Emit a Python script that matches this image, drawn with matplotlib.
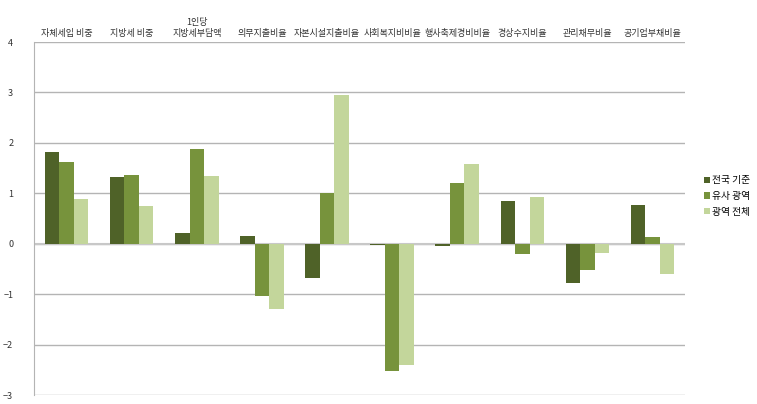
# grouped bar chart of finance indicators, three reference groups
import matplotlib.pyplot as plt
import numpy as np

plt.rcParams['font.family'] = ['Noto Sans CJK KR', 'DejaVu Sans']

# categories (shown on top of the plot)
categories = ['자체세입 비중', '지방세 비중', '1인당\n지방세부담액', '의무지출비율', '자본시설지출비율',
              '사회복지비비율', '행사축제경비비율', '경상수지비율', '관리채무비율', '공기업부채비율']
series_names = ['전국 기준', '유사 광역', '광역 전체']

# values per series
national = [1.82, 1.32, 0.22, 0.16, -0.68, -0.02, -0.04, 0.84, -0.77, 0.76]
similar = [1.63, 1.36, 1.87, -1.03, 1.00, -2.52, 1.21, -0.20, -0.51, 0.13]
metro_all = [0.88, 0.75, 1.34, -1.29, 2.95, -2.40, 1.58, 0.93, -0.19, -0.60]

colors = ['#4f6228', '#77933c', '#c3d69b']

fig = plt.figure(figsize=(7.57, 4.04), dpi=100)
ax = fig.add_axes([0.045, 0.022, 0.86, 0.874])

x = np.arange(len(categories))
bar_width = 0.223
for i, (vals, name) in enumerate(zip([national, similar, metro_all], series_names)):
    ax.bar(x + (i - 1) * bar_width, vals, width=bar_width, color=colors[i],
           label=name, zorder=3)

ax.set_xlim(-0.5, len(categories) - 0.5)
ax.set_ylim(-3, 4)
ax.set_yticks(range(-3, 5))
ax.yaxis.grid(True, color='#b4b4b4', linewidth=1.0, zorder=0)
ax.axhline(0, color='#c8c8c8', linewidth=1.5, zorder=2)

ax.xaxis.tick_top()
ax.set_xticks(x)
ax.set_xticklabels(categories, fontsize=6.5, color='#333333')
ax.tick_params(axis='x', length=0, pad=3)
ax.tick_params(axis='y', length=0, labelsize=6.5, labelcolor='#333333', pad=15)

for s in ['top', 'right', 'bottom']:
    ax.spines[s].set_visible(False)
ax.spines['left'].set_color('#b4b4b4')

fig.legend(loc='center left', bbox_to_anchor=(0.918, 0.515), frameon=False,
           fontsize=7, handlelength=0.6, handleheight=0.6, handletextpad=0.3,
           labelspacing=0.6)

plt.savefig('out.png')
